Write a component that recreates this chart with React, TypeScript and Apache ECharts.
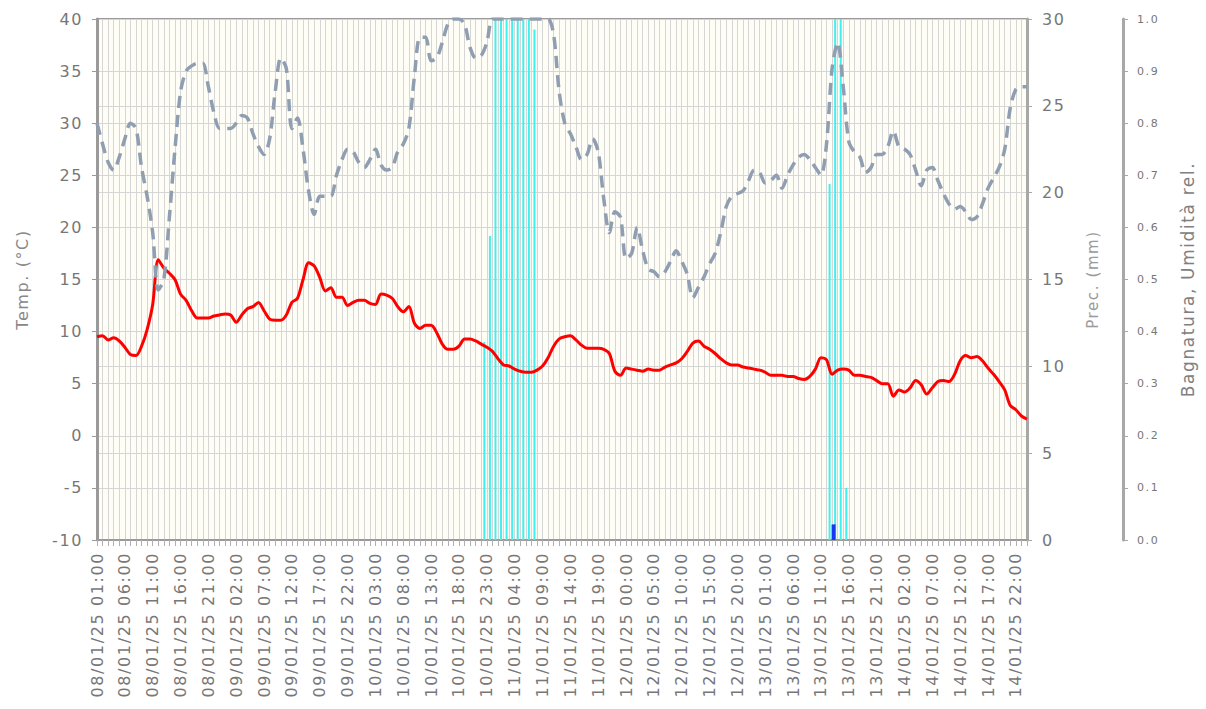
import React, { useEffect, useRef } from "react";
import * as echarts from "echarts";

// ---- categories: hourly timestamps 08/01/25 01:00 -> 15/01/25 00:00 ----
const START_UTC = Date.UTC(2025, 0, 8, 1, 0);
const HOURS = 168;
const pad = (n: number) => String(n).padStart(2, "0");
const categories: string[] = Array.from({ length: HOURS }, (_, i) => {
  const d = new Date(START_UTC + i * 3600000);
  return `${pad(d.getUTCDate())}/${pad(d.getUTCMonth() + 1)}/${String(d.getUTCFullYear()).slice(2)} ${pad(d.getUTCHours())}:00`;
});

// ---- series values ----
const temperature = [
  9.5, 9.6, 9.2, 9.4, 9.1, 8.5, 7.8, 7.7, 8.6, 10.2,
  12.6, 16.9, 16.1, 15.6, 15.0, 13.6, 13.0, 12.0, 11.3, 11.3,
  11.3, 11.5, 11.6, 11.7, 11.6, 10.9, 11.6, 12.2, 12.4, 12.8,
  12.0, 11.2, 11.1, 11.1, 11.6, 12.8, 13.2, 15.0, 16.6, 16.3,
  15.2, 13.9, 14.2, 13.3, 13.3, 12.5, 12.8, 13.0, 13.0, 12.7,
  12.6, 13.6, 13.5, 13.2, 12.4, 11.9, 12.4, 10.8, 10.3, 10.6,
  10.6, 9.9, 8.8, 8.3, 8.3, 8.6, 9.3, 9.3, 9.1, 8.8,
  8.5, 8.1, 7.4, 6.8, 6.7, 6.4, 6.2, 6.1, 6.1, 6.3,
  6.7, 7.5, 8.6, 9.3, 9.5, 9.6, 9.2, 8.7, 8.4, 8.4,
  8.4, 8.3, 7.9, 6.2, 5.8, 6.5, 6.4, 6.3, 6.2, 6.4,
  6.3, 6.3, 6.6, 6.8, 7.0, 7.4, 8.1, 8.9, 9.1, 8.6,
  8.3, 7.9, 7.4, 7.0, 6.8, 6.8, 6.6, 6.5, 6.4, 6.3,
  6.1, 5.8, 5.8, 5.8, 5.7, 5.7, 5.5, 5.4, 5.7, 6.4,
  7.5, 7.3, 5.9, 6.3, 6.4, 6.3, 5.8, 5.8, 5.7, 5.6,
  5.3, 5.0, 5.0, 3.8, 4.4, 4.2, 4.6, 5.3, 4.9, 4.0,
  4.6, 5.2, 5.3, 5.2, 5.9, 7.2, 7.7, 7.5, 7.6, 7.2,
  6.5, 5.9, 5.2, 4.4, 2.9, 2.5, 1.9, 1.6,
];

const humidity = [
  0.80, 0.76, 0.725, 0.71, 0.735, 0.77, 0.80, 0.79, 0.715, 0.66,
  0.59, 0.48, 0.50, 0.62, 0.75, 0.86, 0.90, 0.91, 0.915, 0.915,
  0.87, 0.82, 0.79, 0.79, 0.79, 0.80, 0.815, 0.81, 0.78, 0.755,
  0.74, 0.77, 0.86, 0.925, 0.905, 0.79, 0.81, 0.75, 0.67, 0.625,
  0.66, 0.66, 0.66, 0.70, 0.73, 0.75, 0.745, 0.725, 0.715, 0.73,
  0.75, 0.72, 0.71, 0.715, 0.745, 0.76, 0.79, 0.89, 0.965, 0.965,
  0.92, 0.925, 0.955, 0.99, 1.0, 1.0, 0.99, 0.945, 0.925, 0.93,
  0.955, 1.0, 1.0, 1.0, 1.0, 1.0, 1.0, 1.0, 1.0, 1.0,
  1.0, 1.0, 0.97, 0.86, 0.80, 0.78, 0.755, 0.73, 0.74, 0.77,
  0.745, 0.655, 0.59, 0.63, 0.62, 0.54, 0.55, 0.60, 0.555, 0.52,
  0.515, 0.505, 0.515, 0.535, 0.555, 0.535, 0.51, 0.465, 0.485, 0.505,
  0.53, 0.55, 0.59, 0.64, 0.66, 0.665, 0.67, 0.69, 0.71, 0.705,
  0.685, 0.69, 0.70, 0.675, 0.70, 0.72, 0.735, 0.74, 0.73, 0.715,
  0.70, 0.76, 0.905, 0.955, 0.87, 0.765, 0.745, 0.735, 0.705, 0.715,
  0.74, 0.74, 0.755, 0.785, 0.755, 0.75, 0.74, 0.71, 0.68, 0.71,
  0.715, 0.69, 0.665, 0.645, 0.635, 0.64, 0.63, 0.615, 0.62, 0.645,
  0.675, 0.695, 0.715, 0.75, 0.83, 0.865, 0.87, 0.87,
];

const precipTimes = [
  "10/01/25 23:00", "11/01/25 00:00", "11/01/25 01:00", "11/01/25 02:00",
  "11/01/25 03:00", "11/01/25 04:00", "11/01/25 05:00", "11/01/25 06:00",
  "11/01/25 07:00", "11/01/25 08:00",
  "13/01/25 13:00", "13/01/25 14:00", "13/01/25 15:00", "13/01/25 16:00",
];
const precipValues = [11.4, 17.5, 30, 30, 30, 30, 30, 30, 30, 29.4, 20.5, 30, 30, 3];

const wetnessTimes = ["13/01/25 13:00"];
const wetnessValues = [0.03];

const FONT = "DejaVu Sans";

function sparse(times: string[], values: number[]) {
  return categories.map((c) => {
    const k = times.indexOf(c);
    return k >= 0 ? values[k] : null;
  });
}

export default function App() {
  const ref = useRef<HTMLDivElement>(null);
  useEffect(() => {
    if (!ref.current) return;
    const chart = echarts.init(ref.current, undefined, { renderer: "svg" });
    const grid = "#d6d6d6";
    chart.setOption({
      animation: false,
      textStyle: { fontFamily: FONT },
      grid: {
        left: 97, top: 19, width: 930, height: 521,
        show: true, backgroundColor: "#fffef6", borderColor: "#9a9a9a", borderWidth: 2,
      },
      xAxis: {
        type: "category",
        data: categories,
        boundaryGap: false,
        axisLine: { show: true, onZero: false, lineStyle: { color: "#9a9a9a", width: 2 } },
        axisTick: { show: true, interval: 0, length: 6, lineStyle: { color: "#b0b0b0" } },
        axisLabel: { interval: 4, rotate: 90, color: "#777", fontSize: 16, fontFamily: FONT, margin: 12 },
        splitLine: { show: true, interval: 0, lineStyle: { color: grid, width: 1 } },
      },
      yAxis: [
        {
          type: "value", min: -10, max: 40, interval: 5, position: "left",
          name: "Temp. (°C)", nameLocation: "middle", nameRotate: 90, nameGap: 67,
          nameTextStyle: { color: "#888", fontSize: 16, fontFamily: FONT },
          axisLine: { show: true, lineStyle: { color: "#9a9a9a", width: 3 } },
          axisTick: { show: true, length: 5, lineStyle: { color: "#9a9a9a" } },
          axisLabel: { color: "#777", fontSize: 16, margin: 14, fontFamily: FONT },
          splitLine: { show: true, lineStyle: { color: grid } },
        },
        {
          type: "value", min: 0, max: 30, interval: 5, position: "right",
          name: "Prec. (mm)", nameLocation: "middle", nameRotate: 90, nameGap: 58,
          nameTextStyle: { color: "#9a9a9a", fontSize: 15, fontFamily: FONT },
          axisLine: { show: true, lineStyle: { color: "#a8a8a8", width: 3 } },
          axisTick: { show: true, length: 5, lineStyle: { color: "#a8a8a8" } },
          axisLabel: { color: "#777", fontSize: 16, margin: 15, fontFamily: FONT },
          splitLine: { show: true, lineStyle: { color: grid } },
        },
        {
          type: "value", min: 0, max: 1, interval: 0.1, position: "right", offset: 96,
          name: "Bagnatura, Umidità rel.", nameLocation: "middle", nameRotate: 90, nameGap: 56,
          nameTextStyle: { color: "#808080", fontSize: 17, fontFamily: FONT },
          axisLine: { show: true, lineStyle: { color: "#a8a8a8", width: 3 } },
          axisTick: { show: true, length: 5, lineStyle: { color: "#a8a8a8" } },
          axisLabel: { color: "#777", fontSize: 11, margin: 14, fontFamily: FONT, formatter: (v: number) => v.toFixed(1) },
          splitLine: { show: false },
        },
      ],
      series: [
        {
          name: "Temp.", type: "line", yAxisIndex: 0, data: temperature,
          smooth: 0.3, showSymbol: false,
          lineStyle: { color: "#ff0000", width: 3 }, itemStyle: { color: "#ff0000" },
        },
        {
          name: "Umidità rel.", type: "line", yAxisIndex: 2, data: humidity,
          smooth: 0.3, showSymbol: false,
          lineStyle: { color: "#909eb2", width: 3.5, type: [12, 7] }, itemStyle: { color: "#909eb2" },
        },
        {
          name: "Prec.", type: "bar", yAxisIndex: 1, data: sparse(precipTimes, precipValues),
          barWidth: 2, itemStyle: { color: "#3ef0f0" },
        },
        {
          name: "Bagnatura", type: "bar", yAxisIndex: 2, data: sparse(wetnessTimes, wetnessValues),
          barWidth: 4, barGap: "50%", itemStyle: { color: "#1838f0" },
        },
      ],
    });
    return () => chart.dispose();
  }, []);
  return (
    <>
      <style>{`.wx-chart text { letter-spacing: 1.6px; }`}</style>
      <div
        ref={ref}
        className="wx-chart"
        style={{ position: "fixed", left: 0, top: 0, width: 1206, height: 709, background: "#fff" }}
      />
    </>
  );
}
